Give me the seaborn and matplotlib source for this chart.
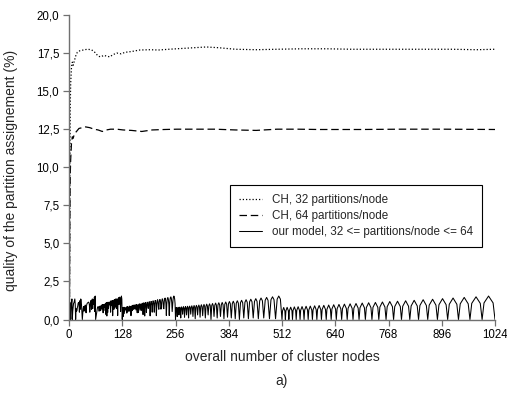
import numpy as np
import pandas as pd
import matplotlib
matplotlib.use("Agg")
import matplotlib.pyplot as plt
from matplotlib.ticker import FuncFormatter
import seaborn as sns

# ---------------- data ----------------
# CH, 32 partitions/node (dotted)
ch32_nodes = [1, 2, 3, 4, 6, 8, 10, 12, 16, 20, 26, 34, 44, 54, 62, 70, 76, 84, 90, 98,
              106, 115, 125, 135, 150, 170, 195, 215, 240, 270, 300, 330, 360, 400, 450,
              500, 560, 620, 680, 740, 800, 860, 920, 980, 1024]
ch32_quality = [0.0, 9.0, 14.0, 15.5, 16.6, 16.9, 16.7, 16.9, 17.3, 17.55, 17.65, 17.7, 17.75,
                17.72, 17.55, 17.3, 17.25, 17.35, 17.3, 17.25, 17.4, 17.5, 17.45, 17.55, 17.6,
                17.7, 17.72, 17.7, 17.75, 17.8, 17.85, 17.9, 17.85, 17.75, 17.72, 17.75, 17.78,
                17.78, 17.75, 17.75, 17.75, 17.75, 17.75, 17.72, 17.75]

# CH, 64 partitions/node (dashed)
ch64_nodes = [1, 2, 3, 4, 6, 8, 10, 13, 18, 24, 32, 40, 50, 60, 70, 80, 90, 100, 115, 130,
              150, 175, 200, 230, 260, 300, 350, 400, 450, 500, 550, 600, 700, 800, 900, 1024]
ch64_quality = [0.0, 6.0, 9.5, 10.5, 11.6, 12.0, 11.9, 12.2, 12.35, 12.55, 12.6, 12.65, 12.6,
                12.5, 12.45, 12.35, 12.45, 12.5, 12.5, 12.45, 12.42, 12.35, 12.45, 12.48, 12.5,
                12.5, 12.5, 12.45, 12.42, 12.5, 12.5, 12.48, 12.48, 12.5, 12.5, 12.48]

# our model, 1..256 nodes (one reading per node count)
model_q_small = [
    0, 0, 1.10, 0, 0.78, 1.10, 1.35, 0, 0.55, 0.78, 1.07, 1.10, 1.23, 1.35, 0.98, 0,
    0.71, 0.55, 0.58, 0.78, 0.88, 1.07, 1.12, 1.10, 0.48, 1.23, 0.67, 1.35, 1.31, 0.98, 0.52, 0,
    0.38, 0.71, 0.85, 0.55, 0.86, 0.58, 0.95, 0.78, 0.44, 0.88, 1.01, 1.07, 1.10, 1.12, 1.14, 1.10,
    0.96, 0.48, 0.91, 1.23, 1.24, 0.67, 1.15, 1.35, 0.71, 1.31, 1.31, 0.98, 1.47, 0.52, 1.54, 0,
    0.19, 0.38, 0.55, 0.71, 0.81, 0.85, 0.80, 0.55, 0.56, 0.86, 0.89, 0.58, 0.74, 0.95, 0.69, 0.78,
    0.98, 0.44, 0.97, 0.88, 0.81, 1.01, 0.58, 1.07, 0.32, 1.10, 0.23, 1.12, 0.46, 1.14, 0.74, 1.10,
    1.00, 0.96, 1.17, 0.48, 1.23, 0.91, 1.06, 1.23, 0.25, 1.24, 1.17, 0.67, 1.31, 1.15, 0.81, 1.35,
    1.19, 0.71, 1.36, 1.31, 0.26, 1.31, 1.43, 0.98, 1.05, 1.47, 1.38, 0.52, 1.28, 1.54, 1.34, 0,
    0.79, 0.19, 0.80, 0.38, 0.80, 0.55, 0.77, 0.71, 0.67, 0.81, 0.42, 0.85, 0.51, 0.80, 0.79, 0.55,
    0.88, 0.56, 0.80, 0.86, 0.25, 0.89, 0.80, 0.58, 0.93, 0.74, 0.67, 0.95, 0.73, 0.69, 0.97, 0.78,
    0.63, 0.98, 0.87, 0.44, 0.96, 0.97, 0.46, 0.88, 1.03, 0.81, 0.61, 1.01, 1.01, 0.58, 0.84, 1.07,
    0.97, 0.32, 0.93, 1.10, 0.97, 0.23, 0.95, 1.12, 1.01, 0.46, 0.90, 1.14, 1.10, 0.74, 0.73, 1.10,
    1.17, 1.00, 0.24, 0.96, 1.19, 1.17, 0.90, 0.48, 1.05, 1.23, 1.19, 0.91, 0.48, 1.06, 1.25, 1.23,
    1.01, 0.25, 0.98, 1.24, 1.30, 1.17, 0.79, 0.67, 1.15, 1.31, 1.31, 1.15, 0.68, 0.81, 1.20, 1.35,
    1.35, 1.19, 0.78, 0.71, 1.17, 1.36, 1.41, 1.31, 1.04, 0.26, 1.00, 1.31, 1.43, 1.43, 1.30, 0.98,
    0.26, 1.05, 1.34, 1.47, 1.48, 1.38, 1.12, 0.52, 0.91, 1.28, 1.47, 1.54, 1.50, 1.34, 1.03, 0,
]
model_nodes_small = list(range(1, len(model_q_small) + 1))

# our model, 256..512 nodes (readings along the arches)
model_nodes_mid = [
    257.0, 258.0, 259.0, 260.1, 261.1, 262.2, 263.2, 264.3, 265.3, 266.4, 267.5, 268.6, 269.7,
    270.8, 271.9, 273.1, 274.2, 275.4, 276.5, 277.7, 278.9, 280.1, 281.3, 282.5, 283.7, 285.0,
    286.2, 287.4, 288.7, 290.0, 291.3, 292.6, 293.9, 295.2, 296.6, 297.9, 299.3, 300.7, 302.0,
    303.4, 304.8, 306.3, 307.7, 309.1, 310.6, 312.1, 313.6, 315.1, 316.6, 318.2, 319.7, 321.3,
    322.9, 324.5, 326.1, 327.7, 329.4, 331.0, 332.7, 334.4, 336.1, 337.9, 339.6, 341.3, 343.1,
    345.0, 346.8, 348.6, 350.5, 352.4, 354.3, 356.2, 358.1, 360.1, 362.1, 364.1, 366.2, 368.2,
    370.3, 372.4, 374.5, 376.7, 378.9, 381.0, 383.3, 385.6, 387.8, 390.1, 392.5, 394.9, 397.2,
    399.6, 402.1, 404.6, 407.1, 409.6, 412.2, 414.9, 417.5, 420.1, 422.9, 425.6, 428.4, 431.2,
    434.1, 437.0, 439.9, 442.8, 445.9, 449.0, 452.0, 455.1, 458.4, 461.6, 464.9, 468.1, 471.6,
    475.0, 478.4, 481.9, 485.5, 489.2, 492.8, 496.5, 500.4, 504.2, 508.1,
]
model_q_mid = [
    0.69, 0.79, 0.69, 0.19, 0.70, 0.80, 0.70, 0.30, 0.70, 0.81, 0.70, 0.10, 0.72, 0.83, 0.72,
    0.35, 0.73, 0.84, 0.73, 0.15, 0.74, 0.85, 0.74, 0.30, 0.76, 0.87, 0.76, 0.10, 0.77, 0.88,
    0.77, 0.35, 0.78, 0.90, 0.78, 0.20, 0.80, 0.92, 0.80, 0.05, 0.81, 0.93, 0.81, 0.30, 0.83,
    0.95, 0.83, 0.15, 0.84, 0.97, 0.84, 0.25, 0.86, 0.99, 0.86, 0.10, 0.88, 1.01, 0.88, 0.30,
    0.90, 1.03, 0.90, 0.0, 0.91, 1.05, 0.91, 0.20, 0.94, 1.08, 0.94, 0.10, 0.96, 1.10, 0.96,
    0.20, 0.97, 1.12, 0.97, 0.05, 1.00, 1.15, 1.00, 0.15, 1.03, 1.18, 1.03, 0.10, 1.04, 1.20,
    1.04, 0.05, 1.07, 1.23, 1.07, 0.0, 1.10, 1.26, 1.10, 0.10, 1.13, 1.30, 1.13, 0.05, 1.16,
    1.33, 1.16, 0.10, 1.19, 1.37, 1.19, 0.05, 1.23, 1.41, 1.23, 0.10, 1.26, 1.45, 1.26, 0.05,
    1.30, 1.49, 1.30, 0.05, 1.34, 1.54, 1.34,
]

# our model, 512..1024 nodes (readings along the arches)
model_nodes_large = [
    512.0, 513.2, 516.1, 518.9, 520.1, 521.4, 524.3, 527.3, 528.5, 529.8, 532.9, 535.9, 537.2,
    538.5, 541.7, 544.8, 546.1, 547.5, 550.8, 554.0, 555.4, 556.8, 560.2, 563.5, 565.0, 566.5,
    569.9, 573.4, 574.9, 576.4, 580.0, 583.6, 585.1, 586.7, 590.5, 594.2, 595.8, 597.4, 601.3,
    605.2, 606.8, 608.5, 612.5, 616.5, 618.3, 620.0, 624.2, 628.4, 630.2, 632.0, 636.3, 640.7,
    642.5, 644.4, 648.9, 653.4, 655.4, 657.4, 662.0, 666.7, 668.7, 670.8, 675.7, 680.6, 682.7,
    684.8, 689.9, 695.0, 697.2, 699.5, 704.8, 710.1, 712.4, 714.7, 720.3, 725.8, 728.2, 730.7,
    736.5, 742.3, 744.7, 747.3, 753.4, 759.4, 762.1, 764.8, 771.1, 777.5, 780.2, 783.0, 789.7,
    796.4, 799.2, 802.2, 809.2, 816.2, 819.2, 822.4, 829.7, 837.1, 840.2, 843.5, 851.3, 859.0,
    862.3, 865.8, 874.0, 882.1, 885.6, 889.3, 897.9, 906.5, 910.2, 914.1, 923.2, 932.3, 936.2,
    940.4, 950.0, 959.6, 963.8, 968.1, 978.4, 988.6, 993.0, 997.6, 1008.5, 1019.4, 1024.0,
]
model_q_large = [
    0, 0.56, 0.79, 0.56, 0, 0.57, 0.80, 0.57, 0, 0.58, 0.81, 0.58, 0, 0.59, 0.83, 0.59,
    0, 0.60, 0.84, 0.60, 0, 0.60, 0.85, 0.60, 0, 0.62, 0.87, 0.62, 0, 0.62, 0.88, 0.62,
    0, 0.64, 0.90, 0.64, 0, 0.65, 0.92, 0.65, 0, 0.66, 0.93, 0.66, 0, 0.67, 0.95, 0.67,
    0, 0.69, 0.97, 0.69, 0, 0.70, 0.99, 0.70, 0, 0.72, 1.01, 0.72, 0, 0.73, 1.03, 0.73,
    0, 0.75, 1.05, 0.75, 0, 0.77, 1.08, 0.77, 0, 0.78, 1.10, 0.78, 0, 0.80, 1.12, 0.80,
    0, 0.82, 1.15, 0.82, 0, 0.84, 1.18, 0.84, 0, 0.85, 1.20, 0.85, 0, 0.87, 1.23, 0.87,
    0, 0.89, 1.26, 0.89, 0, 0.92, 1.30, 0.92, 0, 0.94, 1.33, 0.94, 0, 0.97, 1.37, 0.97,
    0, 1.00, 1.41, 1.00, 0, 1.03, 1.45, 1.03, 0, 1.06, 1.49, 1.06, 0, 1.09, 1.54, 1.09, 0,
]

x_ticks = [0, 128, 256, 384, 512, 640, 768, 896, 1024]
y_ticks = [0, 2.5, 5, 7.5, 10, 12.5, 15, 17.5, 20]

series_labels = ["CH, 32 partitions/node",
                 "CH, 64 partitions/node",
                 "our model, 32 <= partitions/node <= 64"]

# ---------------- plot ----------------
sns.set_style("ticks")
plt.rcParams["font.family"] = ["Liberation Sans", "DejaVu Sans"]

W, H = 507, 394
fig = plt.figure(figsize=(W / 100, H / 100), dpi=100)
ax = fig.add_axes([69 / W, 1 - 319.5 / H, 426 / W, 304.5 / H])

df32 = pd.DataFrame({"n": ch32_nodes, "q": ch32_quality})
df64 = pd.DataFrame({"n": ch64_nodes, "q": ch64_quality})
dfm = pd.DataFrame({
    "n": model_nodes_small + model_nodes_mid + model_nodes_large,
    "q": model_q_small + model_q_mid + model_q_large,
})

sns.lineplot(data=df32, x="n", y="q", ax=ax, color="black", lw=0.9,
             linestyle=(0, (1, 1.6)), estimator=None, sort=False, label=series_labels[0])
sns.lineplot(data=df64, x="n", y="q", ax=ax, color="black", lw=0.9,
             linestyle=(0, (6, 3)), estimator=None, sort=False, label=series_labels[1])
sns.lineplot(data=dfm, x="n", y="q", ax=ax, color="black", lw=0.75,
             estimator=None, sort=False, label=series_labels[2])

ax.set_xlim(0, 1024)
ax.set_ylim(0, 20)
ax.set_xticks(x_ticks)
ax.set_yticks(y_ticks)
ax.yaxis.set_major_formatter(FuncFormatter(lambda v, p: f"{v:.1f}".replace(".", ",")))

for side in ["top", "right"]:
    ax.spines[side].set_visible(False)
for side in ["left", "bottom"]:
    ax.spines[side].set_color("#707070")
    ax.spines[side].set_linewidth(1.0)
ax.tick_params(axis="both", direction="out", length=4, width=0.9, color="#707070",
               labelsize=8.3, labelcolor="black", pad=3)

ax.set_xlabel("overall number of cluster nodes", fontsize=10)
ax.xaxis.set_label_coords(0.5, (319.5 - 357) / 304.5)
ax.xaxis.label.set_va("center")
ax.set_ylabel("quality of the partition assignement (%)", fontsize=10)
ax.yaxis.set_label_coords((11 - 69) / 426, 0.49)
ax.yaxis.label.set_va("center")

fig.text(282 / W, 1 - 381 / H, "a)", ha="center", va="center", fontsize=10)

leg = ax.legend(loc="upper left", bbox_to_anchor=((230 - 69) / 426, (319.5 - 185) / 304.5),
                borderaxespad=0, frameon=True, fancybox=False, edgecolor="black",
                framealpha=1, fontsize=8.4, handlelength=1.95, handletextpad=0.85,
                borderpad=0.8, labelspacing=0.32)
leg.get_frame().set_linewidth(0.8)

fig.savefig("out.png", dpi=100)
